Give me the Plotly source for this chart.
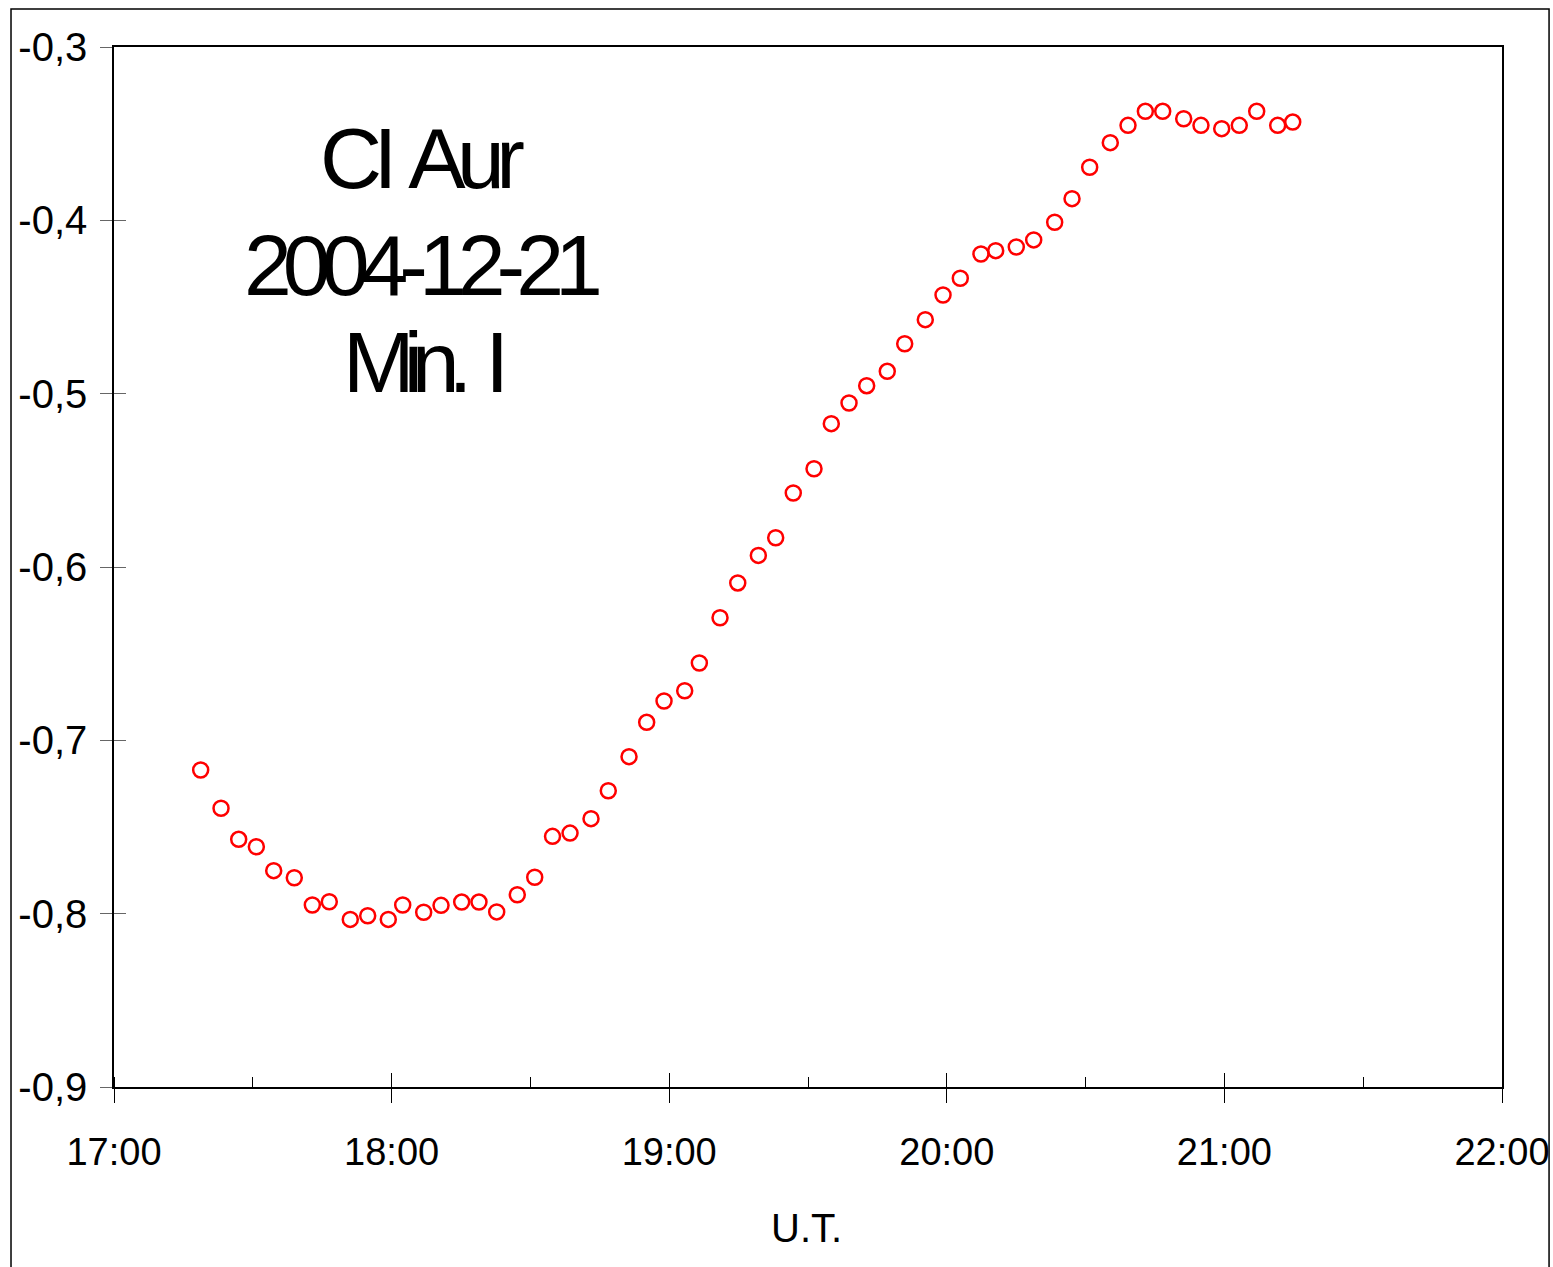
import plotly.graph_objects as go

# ---- data ----
times = [
    "17:18:44", "17:23:08", "17:26:57", "17:30:46", "17:34:31", "17:38:58",
    "17:42:52", "17:46:32", "17:51:04", "17:54:50", "17:59:17", "18:02:24",
    "18:06:56", "18:10:41", "18:15:09", "18:18:53", "18:22:43", "18:27:10",
    "18:30:56", "18:34:47", "18:38:34", "18:43:06", "18:46:50", "18:51:19",
    "18:55:08", "18:58:53", "19:03:21", "19:06:31", "19:10:59", "19:14:49",
    "19:19:16", "19:23:01", "19:26:49", "19:31:18", "19:35:02", "19:38:52",
    "19:42:41", "19:47:08", "19:50:54", "19:55:21", "19:59:11", "20:02:55",
    "20:07:23", "20:10:34", "20:15:01", "20:18:47", "20:23:19", "20:27:04",
    "20:30:53", "20:35:20", "20:39:10", "20:42:55", "20:46:40", "20:51:12",
    "20:54:56", "20:59:25", "21:03:13", "21:06:59", "21:11:31", "21:14:46",
]
magnitudes = [
    -0.7171, -0.7392, -0.7571, -0.7614, -0.7752, -0.7793,
    -0.7950, -0.7931, -0.8033, -0.8012, -0.8033, -0.7950,
    -0.7992, -0.7952, -0.7933, -0.7933, -0.7990, -0.7891,
    -0.7790, -0.7554, -0.7535, -0.7452, -0.7291, -0.7094,
    -0.6896, -0.6773, -0.6714, -0.6554, -0.6293, -0.6092,
    -0.5933, -0.5831, -0.5573, -0.5433, -0.5173, -0.5054,
    -0.4954, -0.4871, -0.4712, -0.4573, -0.4431, -0.4334,
    -0.4194, -0.4175, -0.4154, -0.4113, -0.4011, -0.3875,
    -0.3694, -0.3552, -0.3452, -0.3371, -0.3371, -0.3414,
    -0.3452, -0.3471, -0.3452, -0.3371, -0.3452, -0.3433,
]
date = "2004-12-21"
x_range = [date + " 17:00", date + " 22:00"]
y_tickvals = [-0.9, -0.8, -0.7, -0.6, -0.5, -0.4, -0.3]
y_ticktext = ["-0,9", "-0,8", "-0,7", "-0,6", "-0,5", "-0,4", "-0,3"]
title_lines = ["CI Aur", "2004-12-21", "Min. I"]
x_title = "U.T."

x_vals = [date + " " + t for t in times]

FONT = "Liberation Sans, Arial, sans-serif"

fig = go.Figure()
fig.add_trace(go.Scatter(
    x=x_vals, y=magnitudes, mode="markers",
    marker=dict(symbol="circle-open", size=15, color="#ff0000",
                line=dict(width=2.5, color="#ff0000")),
    showlegend=False,
))
# helper trace for inner halves of cross ticks
fig.add_trace(go.Scatter(x=[x_vals[0]], y=[magnitudes[0]], xaxis="x2", yaxis="y2",
                         mode="markers", marker=dict(opacity=0), showlegend=False,
                         hoverinfo="skip"))

fig.update_layout(
    width=1553, height=1267,
    margin=dict(l=114, r=51, t=47, b=180),
    paper_bgcolor="white", plot_bgcolor="white",
    font=dict(family=FONT, size=40, color="black"),
    xaxis=dict(
        type="date", range=x_range, dtick=3600000, tickformat="%H:%M",
        tick0=date + " 17:00", automargin=False,
        showgrid=False, zeroline=False,
        showline=True, linecolor="black", linewidth=1.5, mirror=True,
        ticks="outside", ticklen=14, tickcolor="black", tickwidth=1,
        ticklabelstandoff=17,
        minor=dict(dtick=1800000, tick0=date + " 17:00", ticks="inside",
                   ticklen=10, tickcolor="black", showgrid=False),
        tickfont=dict(family=FONT, size=38),
    ),
    yaxis=dict(
        range=[-0.9, -0.3], tickvals=y_tickvals, ticktext=y_ticktext,
        automargin=False,
        showgrid=False, zeroline=False,
        showline=True, linecolor="black", linewidth=1.5, mirror=True,
        ticks="outside", ticklen=12, tickcolor="#666666", tickwidth=1,
        ticklabelstandoff=5,
        tickfont=dict(family=FONT, size=40),
    ),
    xaxis2=dict(
        type="date", range=x_range, overlaying="x", dtick=3600000,
        tick0=date + " 17:00", side="bottom", automargin=False,
        showgrid=False, zeroline=False, showline=False,
        ticks="inside", ticklen=14, tickcolor="black", tickwidth=1,
        showticklabels=False,
    ),
    yaxis2=dict(
        range=[-0.9, -0.3], overlaying="y", tickvals=y_tickvals, side="left",
        automargin=False,
        showgrid=False, zeroline=False, showline=False,
        ticks="inside", ticklen=12, tickcolor="#666666", tickwidth=1,
        showticklabels=False,
    ),
    shapes=[dict(type="rect", xref="paper", yref="paper",
                 x0=-0.0742, x1=1.0339, y0=-0.25, y1=1.0365,
                 line=dict(color="black", width=1.5), fillcolor="rgba(0,0,0,0)",
                 layer="below")],
)

title_y = [0.8933, 0.7904, 0.6971]
spacing = [-8.5, -9.0, -11.0]
for txt, yy, sp in zip(title_lines, title_y, spacing):
    fig.add_annotation(
        text='<span style="letter-spacing:%.1fpx;word-spacing:%.1fpx">%s</span>'
             % (sp, -sp, txt),
        xref="paper", yref="paper", x=0.2219, y=yy,
        xanchor="center", yanchor="middle", showarrow=False,
        font=dict(family=FONT, size=86, color="black"))

fig.add_annotation(text=x_title, xref="paper", yref="paper", x=0.4986, y=-0.1356,
                   xanchor="center", yanchor="middle", showarrow=False,
                   font=dict(family=FONT, size=40, color="black"))

# remove the browser's default 8px body margin so the canvas fills the window
fig.write_html("out.html",
               config={"displayModeBar": False},
               post_script="document.body.style.margin='0';"
                           "document.body.style.overflow='hidden';")
